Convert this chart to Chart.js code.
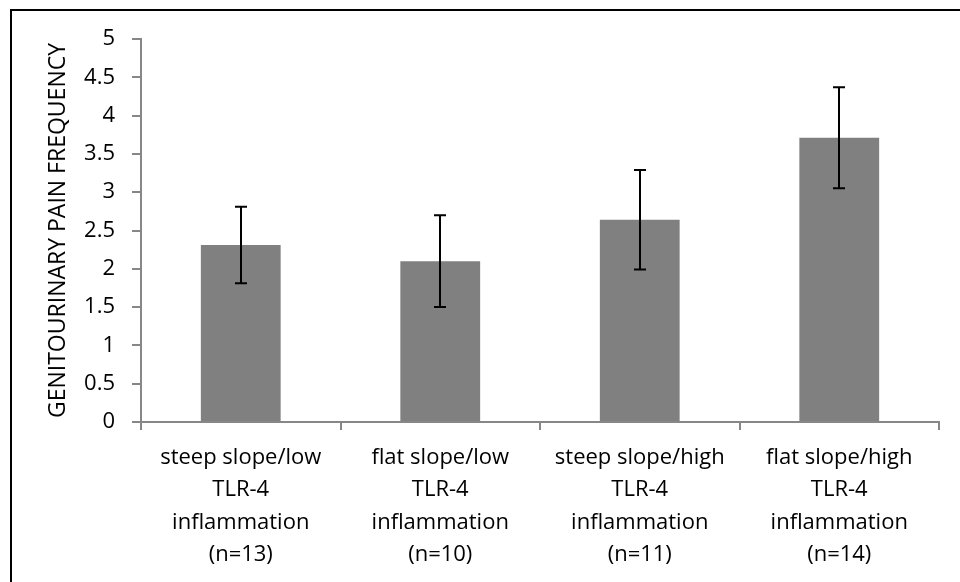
<!DOCTYPE html>
<html>
<head>
<meta charset="utf-8">
<script src="https://cdn.jsdelivr.net/npm/chart.js@4.4.1/dist/chart.umd.min.js"></script>
<style>
  html, body { margin: 0; padding: 0; background: #fff; }
  #wrap { position: relative; width: 960px; height: 582px; overflow: hidden; }
  #frame { position: absolute; left: 10px; top: 9px; width: 960px; height: 600px;
           border-left: 2px solid #000; border-top: 2px solid #000; }
  canvas { position: absolute; left: 0; top: 0; }
</style>
</head>
<body>
<div id="wrap">
  <div id="frame"></div>
  <canvas id="painChart" width="960" height="582"></canvas>
</div>
<script>
const categories = [
  ["steep slope/low", "TLR-4", "inflammation", "(n=13)"],
  ["flat slope/low", "TLR-4", "inflammation", "(n=10)"],
  ["steep slope/high", "TLR-4", "inflammation", "(n=11)"],
  ["flat slope/high", "TLR-4", "inflammation", "(n=14)"],
];
const painFrequency = [2.31, 2.1, 2.64, 3.71];
const painError = [0.5, 0.6, 0.65, 0.66];
const yTicks = [0, 0.5, 1, 1.5, 2, 2.5, 3, 3.5, 4, 4.5, 5];

const FONT = "'Open Sans', sans-serif";
const AXIS_GREY = "#878787";

// draws the error whiskers on top of the bars
const errorBars = {
  id: "errorBars",
  afterDatasetsDraw(chart) {
    const ctx = chart.ctx;
    const yScale = chart.scales.y;
    const meta = chart.getDatasetMeta(0);
    ctx.save();
    ctx.strokeStyle = "#000";
    ctx.lineWidth = 2;
    meta.data.forEach((bar, i) => {
      const top = yScale.getPixelForValue(painFrequency[i] + painError[i]);
      const bottom = yScale.getPixelForValue(painFrequency[i] - painError[i]);
      const x = Math.round(bar.x);
      ctx.beginPath();
      ctx.moveTo(x, top);
      ctx.lineTo(x, bottom);
      ctx.moveTo(x - 6, top);
      ctx.lineTo(x + 6, top);
      ctx.moveTo(x - 6, bottom);
      ctx.lineTo(x + 6, bottom);
      ctx.stroke();
    });
    ctx.restore();
  },
};

const ctx = document.getElementById("painChart").getContext("2d");
new Chart(ctx, {
  type: "bar",
  data: {
    labels: categories,
    datasets: [
      {
        data: painFrequency,
        backgroundColor: "#808080",
        categoryPercentage: 1,
        barPercentage: 0.4,
      },
    ],
  },
  options: {
    responsive: false,
    animation: false,
    layout: { padding: { left: 45, top: 39, right: 21, bottom: 0 } },
    plugins: { legend: { display: false }, tooltip: { enabled: false } },
    scales: {
      x: {
        afterFit: (scale) => { scale.height = 160; },
        grid: {
          offset: true,
          drawOnChartArea: false,
          color: AXIS_GREY,
          lineWidth: 2,
          tickLength: 8,
        },
        border: { color: AXIS_GREY, width: 2 },
        ticks: {
          color: "#000",
          padding: 11,
          maxRotation: 0,
          font: { family: FONT, size: 22, lineHeight: 1.48 },
        },
      },
      y: {
        min: 0,
        max: 5,
        afterFit: (scale) => { scale.width = 96; },
        afterBuildTicks: (scale) => { scale.ticks = yTicks.map((v) => ({ value: v })); },
        grid: {
          drawOnChartArea: false,
          color: AXIS_GREY,
          lineWidth: 2,
          tickLength: 9,
        },
        border: { color: AXIS_GREY, width: 2 },
        ticks: {
          color: "#000",
          padding: 17,
          font: { family: FONT, size: 22 },
          callback: (value) => String(value),
        },
        title: {
          display: true,
          text: "GENITOURINARY PAIN FREQUENCY",
          color: "#000",
          padding: 0,
          font: { family: FONT, size: 23 },
        },
      },
    },
  },
  plugins: [errorBars],
});
</script>
</body>
</html>
